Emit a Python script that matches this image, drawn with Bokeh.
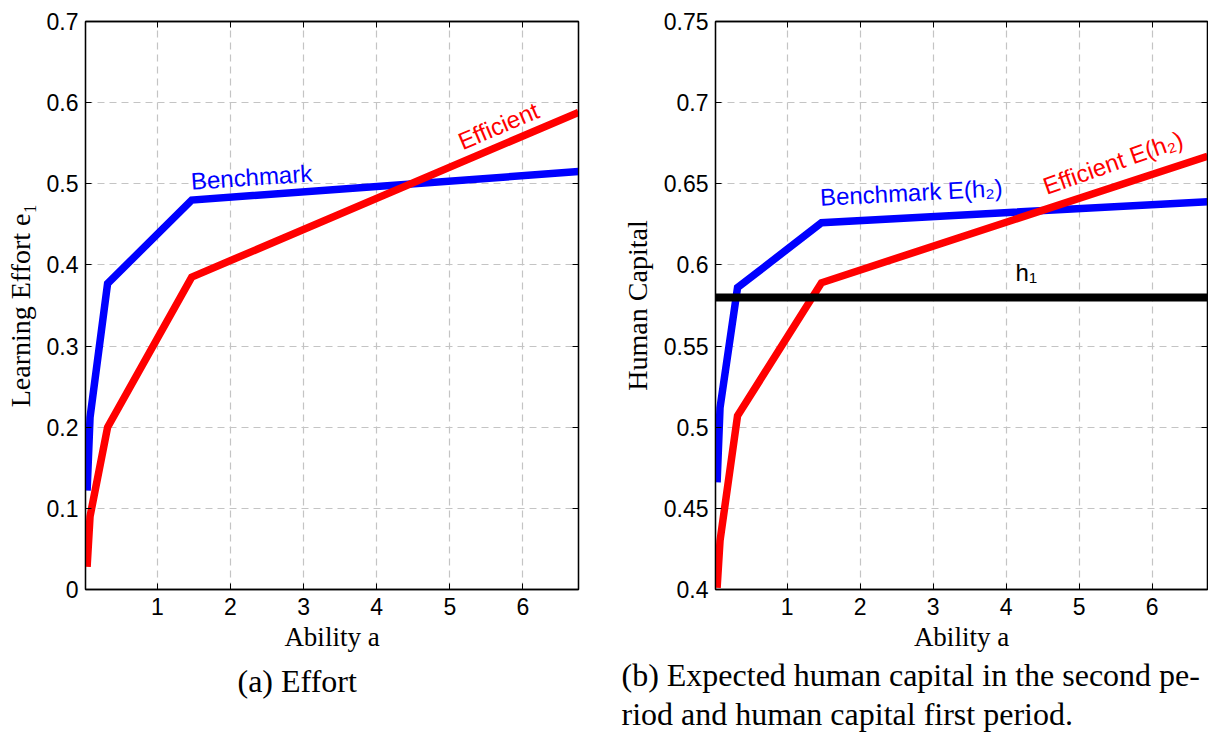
from bokeh.plotting import figure
from bokeh.models import Range1d, LinearAxis, FixedTicker, Label, Span, Title
from bokeh.layouts import row
from bokeh.embed import file_html
from bokeh.resources import INLINE

# ---------------- data ----------------
ability = [0.04, 0.08, 0.32, 1.47, 6.76]
effort_benchmark = [0.122, 0.212, 0.377, 0.480, 0.515]
effort_efficient = [0.028, 0.090, 0.200, 0.385, 0.588]
hc_benchmark = [0.466, 0.512, 0.586, 0.626, 0.639]
hc_efficient = [0.401, 0.430, 0.507, 0.589, 0.667]
h1_value = 0.58

x_ticks = [1, 2, 3, 4, 5, 6]
x_tick_labels = ["1", "2", "3", "4", "5", "6"]
effort_ticks = [0, 0.1, 0.2, 0.3, 0.4, 0.5, 0.6, 0.7]
effort_tick_labels = ["0", "0.1", "0.2", "0.3", "0.4", "0.5", "0.6", "0.7"]
hc_ticks = [0.4, 0.45, 0.5, 0.55, 0.6, 0.65, 0.7, 0.75]
hc_tick_labels = ["0.4", "0.45", "0.5", "0.55", "0.6", "0.65", "0.7", "0.75"]

x_limits = (0.018, 6.76)
effort_limits = (0.0, 0.7)
hc_limits = (0.4, 0.75)

SANS = "Liberation Sans"
SERIF = "Liberation Serif"
BLUE = "#0000ff"
RED = "#ff0000"
GRID = "#c4c4c4"


def make_fig(width, border_left, border_right, ylim, yticks, ylabels, ylabel):
    p = figure(width=width, height=742,
               x_range=Range1d(*x_limits), y_range=Range1d(*ylim),
               output_backend="svg", toolbar_location=None,
               min_border_left=border_left, min_border_right=border_right,
               min_border_top=21, min_border_bottom=153)
    p.background_fill_color = "white"
    p.border_fill_color = "white"
    p.outline_line_color = "black"
    p.outline_line_width = 1.3

    for ax, ticks, labels in ((p.xaxis[0], x_ticks, x_tick_labels),
                              (p.yaxis[0], yticks, ylabels)):
        ax.ticker = FixedTicker(ticks=ticks)
        ax.major_label_overrides = dict(zip(ticks, labels))
        ax.major_tick_in = 6
        ax.major_tick_out = 0
        ax.minor_tick_in = 0
        ax.minor_tick_out = 0
        ax.axis_line_color = "black"
        ax.axis_line_width = 1.3
        ax.major_tick_line_color = "black"
        ax.major_label_text_font = SANS
        ax.major_label_text_font_size = "23px"
        ax.major_label_text_color = "black"
        ax.axis_label_text_font = SERIF
        ax.axis_label_text_font_style = "normal"
        ax.axis_label_text_color = "black"

    p.xaxis.major_label_standoff = 8
    p.yaxis.major_label_standoff = 7
    p.xaxis.axis_label = "Ability a"
    p.xaxis.axis_label_text_font_size = "27px"
    p.xaxis.axis_label_standoff = 4
    p.yaxis.axis_label = ylabel
    p.yaxis.axis_label_text_font_size = "28px"
    p.yaxis.axis_label_standoff = 8

    # box ticks on top and right (MATLAB style)
    top = LinearAxis(ticker=FixedTicker(ticks=x_ticks),
                     major_label_overrides={t: "" for t in x_ticks})
    right = LinearAxis(ticker=FixedTicker(ticks=yticks),
                       major_label_overrides={t: "" for t in yticks})
    for ax in (top, right):
        ax.major_tick_in = 6
        ax.major_tick_out = 0
        ax.minor_tick_in = 0
        ax.minor_tick_out = 0
        ax.major_label_standoff = 0
        ax.major_label_text_font_size = "0px"
        ax.axis_line_color = "black"
        ax.axis_line_width = 1.3
    p.add_layout(top, "above")
    p.add_layout(right, "right")

    p.xgrid.ticker = FixedTicker(ticks=x_ticks)
    p.ygrid.ticker = FixedTicker(ticks=yticks)
    for g in (p.xgrid, p.ygrid):
        g.grid_line_color = GRID
        g.grid_line_width = 1.2
        g.grid_line_dash = "7 5"
    return p


def caption(text, offset, standoff, valign, line_height):
    return Title(text=text, align="left", offset=offset, standoff=standoff,
                 vertical_align=valign,
                 text_font=SERIF, text_font_size="32px", text_font_style="normal",
                 text_color="black", text_line_height=line_height)


def note(x, y, text, color, angle=0):
    return Label(x=x, y=y, text=text, angle=angle, angle_units="deg",
                 text_color=color, text_font=SANS, text_font_size="24px",
                 text_baseline="alphabetic", text_align="left")


# ---------------- panel (a) ----------------
p1 = make_fig(608, 85, 30, effort_limits, effort_ticks, effort_tick_labels,
              "Learning Effort e\u2081")
p1.line(ability, effort_benchmark, line_color=BLUE, line_width=7.5, line_join="miter")
p1.line(ability, effort_efficient, line_color=RED, line_width=7.5, line_join="miter")

p1.add_layout(note(1.46, 0.503, "Benchmark", BLUE, 4))
p1.add_layout(note(5.13, 0.551, "Efficient", RED, 23))
p1.add_layout(caption("(a) Effort", 152, 13, "bottom", 1.0), "below")

# ---------------- panel (b) ----------------
p2 = make_fig(600, 107, 1, hc_limits, hc_ticks, hc_tick_labels, "Human Capital")
p2.line(ability, hc_benchmark, line_color=BLUE, line_width=7.5, line_join="miter")
p2.line(ability, hc_efficient, line_color=RED, line_width=7.5, line_join="miter")
p2.add_layout(Span(location=h1_value, dimension="width", line_color="black", line_width=8))

p2.add_layout(note(1.45, 0.6417, "Benchmark E(h\u2082)", BLUE, 3))
p2.add_layout(note(4.52, 0.648, "Efficient E(h\u2082)", RED, 19.5))
p2.add_layout(note(4.13, 0.5955, "h\u2081", "black"))
p2.add_layout(caption("(b) Expected human capital in the second pe-\n"
                      "riod and human capital first period.", -94, 4, "middle", 1.06), "below")

layout = row(p1, p2)
open("out.html", "w").write(file_html(layout, INLINE))
